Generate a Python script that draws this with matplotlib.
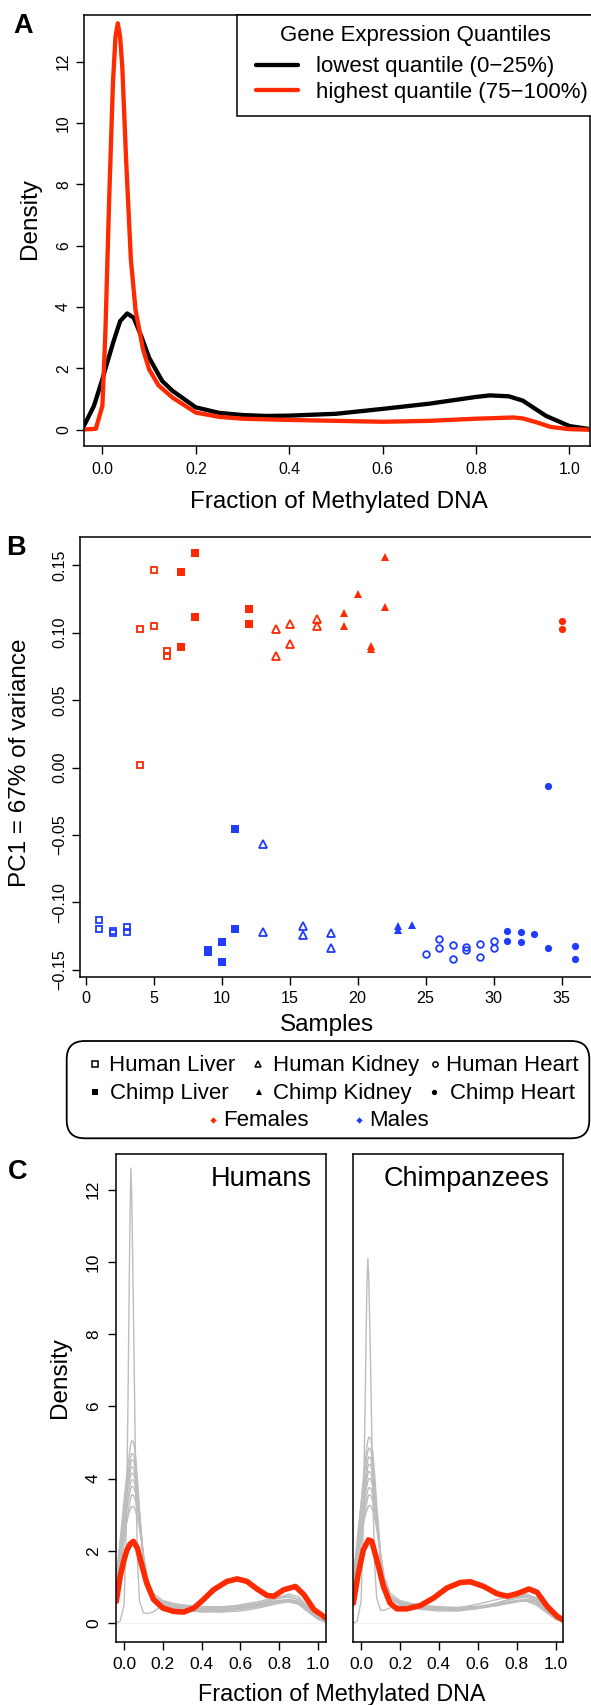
import matplotlib
matplotlib.use('Agg')
import matplotlib.pyplot as plt
from matplotlib.patches import Rectangle, FancyBboxPatch

plt.rcParams['font.family'] = ['Liberation Sans', 'DejaVu Sans']
plt.rcParams['axes.linewidth'] = 1.1
plt.rcParams['lines.solid_capstyle'] = 'round'
plt.rcParams['lines.solid_joinstyle'] = 'round'

W, H = 591, 1705          # figure size in pixels (dpi 100)
RED = '#ff2a00'
BLUE = '#1f3cff'
GREY = '#bdbdbd'

# ---------------- panel A: methylation density by expression quantile
a_x_low = [-0.04, -0.018, 0.0, 0.023, 0.038, 0.053, 0.067, 0.083, 0.1, 0.128, 0.15, 0.2,
           0.25, 0.3, 0.35, 0.4, 0.5, 0.6, 0.7, 0.8, 0.83, 0.87, 0.9, 0.95, 1.0, 1.044]
a_y_low = [0.11, 0.78, 1.65, 2.84, 3.54, 3.79, 3.65, 3.06, 2.35, 1.59, 1.27, 0.73,
           0.55, 0.48, 0.45, 0.46, 0.52, 0.68, 0.85, 1.07, 1.12, 1.09, 0.95, 0.45, 0.12, 0.02]
a_x_high = [-0.04, -0.014, 0.0, 0.0065, 0.0145, 0.0226, 0.028, 0.033, 0.038, 0.0427, 0.0508,
            0.061, 0.071, 0.087, 0.1, 0.12, 0.15, 0.2, 0.25, 0.3, 0.4, 0.5, 0.6, 0.7, 0.8,
            0.88, 0.9, 0.93, 0.96, 1.0, 1.044]
a_y_high = [0.01, 0.03, 0.78, 3.2, 7.5, 11.3, 12.8, 13.25, 12.8, 11.8, 8.8,
            5.55, 3.9, 2.62, 1.97, 1.45, 1.05, 0.56, 0.42, 0.36, 0.32, 0.29, 0.26, 0.29, 0.36,
            0.40, 0.37, 0.24, 0.09, 0.02, 0.0]
a_labels = ['lowest quantile (0\u221225%)', 'highest quantile (75\u2212100%)']

# ---------------- panel B: PC1 per sample (f = female, m = male)
hl_f_x = [4, 4, 5, 5, 6, 6]
hl_f_y = [0.1023, 0.0020, 0.1467, 0.1048, 0.0867, 0.0825]
hl_m_x = [1, 1, 2, 2, 3, 3]
hl_m_y = [-0.1132, -0.1193, -0.1213, -0.1226, -0.1184, -0.1218]
cl_f_x = [7, 7, 8, 8, 12, 12]
cl_f_y = [0.1452, 0.0890, 0.1586, 0.1117, 0.1177, 0.1060]
cl_m_x = [9, 9, 10, 10, 11, 11]
cl_m_y = [-0.1352, -0.1364, -0.1293, -0.1444, -0.0458, -0.1196]
hk_f_x = [14, 14, 15, 15, 17, 17]
hk_f_y = [0.1026, 0.0830, 0.1060, 0.0917, 0.1098, 0.1050]
hk_m_x = [13, 13, 16, 16, 18, 18]
hk_m_y = [-0.0569, -0.1221, -0.1176, -0.1238, -0.1226, -0.1337]
ck_f_x = [19, 19, 20, 21, 21, 22, 22]
ck_f_y = [0.1142, 0.1048, 0.1286, 0.0904, 0.0875, 0.1561, 0.1189]
ck_m_x = [23, 23, 24]
ck_m_y = [-0.1176, -0.1206, -0.1164]
hh_m_x = [25, 26, 26, 27, 27, 28, 28, 29, 29, 30, 30]
hh_m_y = [-0.1382, -0.1268, -0.1340, -0.1315, -0.1421, -0.1327, -0.1349, -0.1307, -0.1406,
          -0.1285, -0.1337]
ch_f_x = [35, 35]
ch_f_y = [0.1088, 0.1026]
ch_m_x = [31, 31, 32, 32, 33, 34, 34, 36, 36]
ch_m_y = [-0.1208, -0.1287, -0.1216, -0.1292, -0.1233, -0.0136, -0.1337, -0.1325, -0.1419]
b_yticks = [-0.15, -0.10, -0.05, 0.00, 0.05, 0.10, 0.15]
b_xticks = [0, 5, 10, 15, 20, 25, 30, 35]

# ---------------- panel C: per-sample densities (grey) and average (red)
c_grid = [-0.04, -0.02, 0.00, 0.01, 0.02, 0.03, 0.035, 0.04, 0.05, 0.06, 0.07, 0.08, 0.10,
          0.12, 0.15, 0.20, 0.25, 0.30, 0.40, 0.50, 0.60, 0.70, 0.80, 0.85, 0.90, 0.95, 1.00, 1.04]
hum_grey = [
    [0.00, 0.05, 0.50, 2.20, 6.00, 11.0, 12.6, 11.8, 8.00, 4.00, 1.60, 0.60, 0.28, 0.26, 0.30, 0.50, 0.48, 0.42, 0.35, 0.33, 0.38, 0.48, 0.58, 0.60, 0.52, 0.30, 0.10, 0.02],
    [1.20, 2.30, 3.40, 3.90, 4.40, 4.80, 4.95, 5.05, 5.00, 4.60, 3.90, 3.10, 1.80, 1.00, 0.70, 0.55, 0.50, 0.45, 0.40, 0.38, 0.42, 0.50, 0.62, 0.65, 0.58, 0.35, 0.12, 0.03],
    [0.90, 2.00, 3.10, 3.60, 4.10, 4.50, 4.62, 4.70, 4.65, 4.30, 3.70, 3.00, 1.70, 0.95, 0.65, 0.50, 0.45, 0.42, 0.40, 0.42, 0.50, 0.60, 0.72, 0.75, 0.65, 0.40, 0.14, 0.04],
    [1.10, 2.10, 3.00, 3.50, 3.95, 4.30, 4.45, 4.52, 4.48, 4.20, 3.65, 3.00, 1.75, 1.00, 0.68, 0.52, 0.48, 0.40, 0.35, 0.35, 0.38, 0.45, 0.55, 0.58, 0.52, 0.32, 0.12, 0.03],
    [0.70, 1.70, 2.80, 3.30, 3.80, 4.15, 4.28, 4.33, 4.28, 4.00, 3.50, 2.90, 1.70, 0.95, 0.62, 0.48, 0.42, 0.36, 0.30, 0.32, 0.40, 0.55, 0.70, 0.80, 0.72, 0.45, 0.15, 0.04],
    [1.30, 2.20, 3.00, 3.40, 3.75, 4.00, 4.10, 4.15, 4.12, 3.90, 3.45, 2.90, 1.80, 1.05, 0.70, 0.55, 0.50, 0.48, 0.45, 0.45, 0.48, 0.55, 0.62, 0.62, 0.55, 0.35, 0.13, 0.04],
    [0.80, 1.70, 2.60, 3.05, 3.45, 3.78, 3.90, 3.97, 3.95, 3.75, 3.35, 2.85, 1.80, 1.05, 0.70, 0.52, 0.45, 0.38, 0.32, 0.30, 0.33, 0.42, 0.55, 0.62, 0.60, 0.40, 0.14, 0.04],
    [1.00, 1.80, 2.60, 3.00, 3.35, 3.62, 3.72, 3.78, 3.76, 3.58, 3.25, 2.80, 1.85, 1.10, 0.72, 0.55, 0.50, 0.45, 0.40, 0.38, 0.40, 0.48, 0.60, 0.66, 0.60, 0.38, 0.13, 0.04],
    [0.60, 1.40, 2.20, 2.65, 3.05, 3.35, 3.48, 3.55, 3.53, 3.38, 3.10, 2.70, 1.85, 1.15, 0.75, 0.58, 0.52, 0.45, 0.38, 0.36, 0.42, 0.55, 0.68, 0.72, 0.65, 0.42, 0.15, 0.04],
    [1.20, 1.80, 2.40, 2.70, 2.95, 3.12, 3.18, 3.23, 3.22, 3.10, 2.88, 2.60, 1.90, 1.25, 0.82, 0.62, 0.55, 0.50, 0.45, 0.42, 0.45, 0.52, 0.60, 0.62, 0.55, 0.35, 0.12, 0.03],
]
chp_grey = [
    [0.00, 0.05, 0.60, 2.40, 5.80, 9.40, 10.1, 9.50, 6.80, 3.60, 1.60, 0.70, 0.35, 0.35, 0.42, 0.50, 0.50, 0.45, 0.38, 0.36, 0.42, 0.52, 0.60, 0.60, 0.50, 0.30, 0.10, 0.02],
    [1.00, 2.10, 3.30, 3.90, 4.45, 4.90, 5.05, 5.15, 5.10, 4.75, 4.10, 3.30, 1.95, 1.10, 0.72, 0.55, 0.50, 0.45, 0.40, 0.40, 0.45, 0.55, 0.68, 0.72, 0.62, 0.38, 0.13, 0.03],
    [1.30, 2.30, 3.30, 3.80, 4.25, 4.60, 4.75, 4.85, 4.80, 4.45, 3.85, 3.15, 1.85, 1.05, 0.70, 0.52, 0.48, 0.43, 0.40, 0.42, 0.52, 0.65, 0.78, 0.80, 0.68, 0.42, 0.14, 0.04],
    [0.80, 1.90, 2.95, 3.45, 3.95, 4.35, 4.52, 4.60, 4.56, 4.25, 3.70, 3.05, 1.80, 1.02, 0.68, 0.52, 0.46, 0.40, 0.36, 0.36, 0.40, 0.50, 0.62, 0.66, 0.60, 0.38, 0.13, 0.03],
    [1.10, 2.00, 2.90, 3.35, 3.80, 4.15, 4.32, 4.40, 4.37, 4.10, 3.60, 3.00, 1.80, 1.05, 0.70, 0.55, 0.50, 0.46, 0.42, 0.40, 0.42, 0.48, 0.58, 0.62, 0.56, 0.36, 0.12, 0.03],
    [0.70, 1.60, 2.60, 3.10, 3.60, 3.98, 4.12, 4.20, 4.17, 3.92, 3.45, 2.90, 1.75, 1.00, 0.66, 0.50, 0.44, 0.38, 0.33, 0.33, 0.40, 0.55, 0.72, 0.78, 0.70, 0.44, 0.15, 0.04],
    [1.20, 2.00, 2.75, 3.15, 3.50, 3.80, 3.93, 4.00, 3.98, 3.78, 3.38, 2.88, 1.82, 1.06, 0.70, 0.54, 0.48, 0.44, 0.40, 0.40, 0.44, 0.52, 0.62, 0.64, 0.56, 0.36, 0.12, 0.03],
    [0.90, 1.70, 2.50, 2.90, 3.28, 3.56, 3.68, 3.75, 3.73, 3.55, 3.22, 2.78, 1.85, 1.10, 0.72, 0.55, 0.50, 0.44, 0.38, 0.37, 0.40, 0.48, 0.60, 0.65, 0.60, 0.38, 0.13, 0.04],
    [0.60, 1.40, 2.20, 2.65, 3.05, 3.35, 3.48, 3.55, 3.53, 3.38, 3.10, 2.70, 1.85, 1.15, 0.75, 0.58, 0.52, 0.45, 0.38, 0.36, 0.42, 0.55, 0.70, 0.74, 0.66, 0.42, 0.15, 0.04],
    [1.20, 1.80, 2.40, 2.70, 2.95, 3.12, 3.20, 3.25, 3.24, 3.12, 2.90, 2.62, 1.92, 1.26, 0.82, 0.62, 0.55, 0.50, 0.45, 0.43, 0.46, 0.52, 0.60, 0.62, 0.55, 0.35, 0.12, 0.03],
]
c_hum_x = [-0.04, -0.02, 0.0, 0.015, 0.031, 0.048, 0.069, 0.091, 0.117, 0.152, 0.2, 0.255, 0.307,
           0.359, 0.4, 0.462, 0.531, 0.583, 0.634, 0.686, 0.738, 0.772, 0.824, 0.884, 0.928,
           0.979, 1.04]
c_hum_y = [0.6, 1.29, 1.75, 2.02, 2.18, 2.26, 2.07, 1.61, 1.1, 0.65, 0.41, 0.32, 0.30,
           0.41, 0.6, 0.92, 1.15, 1.22, 1.15, 0.94, 0.76, 0.74, 0.92, 1.01, 0.78,
           0.37, 0.14]
c_chp_x = [-0.04, -0.014, 0.012, 0.038, 0.055, 0.081, 0.115, 0.149, 0.184, 0.235, 0.304, 0.373,
           0.442, 0.51, 0.562, 0.631, 0.699, 0.751, 0.802, 0.863, 0.905, 0.957, 1.009, 1.043]
c_chp_y = [0.55, 1.38, 2.03, 2.30, 2.26, 1.75, 1.01, 0.55, 0.39, 0.39, 0.48, 0.69,
           0.97, 1.12, 1.14, 1.01, 0.81, 0.74, 0.81, 0.94, 0.85, 0.46, 0.18, 0.07]
frac_ticks = [0.0, 0.2, 0.4, 0.6, 0.8, 1.0]


def add_ax(fig, x0, y0, x1, y1):
    # axes from pixel box (top-left origin)
    return fig.add_axes([x0 / W, 1 - y1 / H, (x1 - x0) / W, (y1 - y0) / H])


def style(ax, fs, padx, pady):
    ax.tick_params(direction='out', length=5.5, width=1.0, labelsize=fs)
    ax.tick_params(axis='x', pad=padx)
    ax.tick_params(axis='y', pad=pady, labelrotation=90)
    plt.setp(ax.get_yticklabels(), va='center')


fig = plt.figure(figsize=(W / 100, H / 100), dpi=100)

# ---- A
axA = add_ax(fig, 83.7, 15, 590, 445.7)
axA.plot(a_x_low, a_y_low, color='black', lw=3.1)
axA.plot(a_x_high, a_y_high, color=RED, lw=3.1)
axA.set_xlim(-0.04, 1.044)
axA.set_ylim(-0.52, 13.52)
axA.set_xticks(frac_ticks)
axA.set_xticklabels(['%.1f' % t for t in frac_ticks])
axA.set_yticks([0, 2, 4, 6, 8, 10, 12])
style(axA, 11.3, 6.3, 3.6)

# ---- B
axB = add_ax(fig, 80.3, 537.3, 594.3, 976.7)
groups = [
    (hl_f_x, hl_f_y, RED, 's', False), (hl_m_x, hl_m_y, BLUE, 's', False),
    (cl_f_x, cl_f_y, RED, 's', True), (cl_m_x, cl_m_y, BLUE, 's', True),
    (hk_f_x, hk_f_y, RED, '^', False), (hk_m_x, hk_m_y, BLUE, '^', False),
    (ck_f_x, ck_f_y, RED, '^', True), (ck_m_x, ck_m_y, BLUE, '^', True),
    (hh_m_x, hh_m_y, BLUE, 'o', False),
    (ch_f_x, ch_f_y, RED, 'o', True), (ch_m_x, ch_m_y, BLUE, 'o', True),
]
msize = {'s': 4.7, '^': 5.8, 'o': 4.8}
for gx, gy, col, mk, filled in groups:
    if filled:
        axB.plot(gx, gy, ls='none', marker=mk, ms=msize[mk] + 0.4, color=col, mec=col, mew=0)
    else:
        axB.plot(gx, gy, ls='none', marker=mk, ms=msize[mk], mfc='none', mec=col, mew=1.3)
axB.set_xlim(-0.4, 37.4)
axB.set_ylim(-0.155, 0.1706)
axB.set_xticks(b_xticks)
axB.set_yticks(b_yticks)
axB.set_yticklabels([('%.2f' % v).replace('-', '\u2212') for v in b_yticks])
style(axB, 11.6, 5.0, 3.9)

# ---- C
axC1 = add_ax(fig, 116.3, 1154, 325.7, 1641.7)
axC2 = add_ax(fig, 353.3, 1154, 563.3, 1641.7)
for ax, greys, rx, ry in [(axC1, hum_grey, c_hum_x, c_hum_y), (axC2, chp_grey, c_chp_x, c_chp_y)]:
    ax.axhline(0, color='#f0f0f0', lw=0.8)
    for gy in greys:
        ax.plot(c_grid, gy, color=GREY, lw=1.0)
    ax.plot(rx, ry, color=RED, lw=4.0)
    ax.set_xlim(-0.04, 1.04)
    ax.set_ylim(-0.52, 12.99)
    ax.set_xticks(frac_ticks)
    ax.set_xticklabels(['%.1f' % t for t in frac_ticks])
axC1.set_yticks([0, 2, 4, 6, 8, 10, 12])
axC2.set_yticks([])
style(axC1, 12.5, 5.5, 5.5)
style(axC2, 12.5, 5.5, 5.5)

# ---- overlay in pixel coordinates for labels and legends
lax = fig.add_axes([0, 0, 1, 1], zorder=5)
lax.set_xlim(0, W)
lax.set_ylim(H, 0)
lax.axis('off')

bold = dict(fontsize=19.5, fontweight='bold', ha='left', va='baseline')
lax.text(13.2, 33.3, 'A', **bold)
lax.text(5.7, 555, 'B', **bold)
lax.text(8.3, 1179, 'C', **bold)

lab = dict(fontsize=17.5)
lax.text(339, 508, 'Fraction of Methylated DNA', ha='center', va='baseline', **lab)
lax.text(30, 219, 'Density', rotation=90, ha='center', va='center', **lab)
lax.text(20, 762.5, 'PC1 = 67% of variance', rotation=90, ha='center', va='center', **lab)
lax.text(327, 1031, 'Samples', ha='center', va='baseline', **lab)
lax.text(60.3, 1378, 'Density', rotation=90, ha='center', va='center', **lab)
lax.text(342, 1701, 'Fraction of Methylated DNA', ha='center', va='baseline', fontsize=16.8)
lax.text(312, 1185.7, 'Humans', ha='right', va='baseline', fontsize=19.5)
lax.text(549.2, 1185.7, 'Chimpanzees', ha='right', va='baseline', fontsize=19.5)

# legend A
lax.add_patch(Rectangle((236.7, 15), 380, 100.7, fc='white', ec='black', lw=1.1))
lax.text(415, 40.7, 'Gene Expression Quantiles', ha='center', va='baseline', fontsize=16)
for yy, yb, col, txt in [(65, 72.3, 'black', a_labels[0]), (90, 97.7, RED, a_labels[1])]:
    lax.plot([256, 298], [yy, yy], color=col, lw=3.1)
    lax.text(315.9, yb, txt, ha='left', va='baseline', fontsize=16)

# legend B
lax.add_patch(FancyBboxPatch((66.7, 1041), 522.6, 97.3,
                             boxstyle='round,pad=0,rounding_size=18',
                             fc='white', ec='black', lw=1.3))
leg_items = [
    (95, 1064, 1071, 109.3, 's', False, 'black', 'Human Liver'),
    (95, 1092, 1099.3, 110, 's', True, 'black', 'Chimp Liver'),
    (258.3, 1064, 1071, 272.7, '^', False, 'black', 'Human Kidney'),
    (259, 1092, 1099.3, 272.7, '^', True, 'black', 'Chimp Kidney'),
    (435, 1064, 1071, 445.7, 'o', False, 'black', 'Human Heart'),
    (434.3, 1092, 1099.3, 450, 'o', True, 'black', 'Chimp Heart'),
    (212.7, 1120, 1126, 223.3, 'D', True, RED, 'Females'),
    (359, 1120, 1126, 369, 'D', True, BLUE, 'Males'),
]
for mx, my, yb, tx, mk, filled, col, txt in leg_items:
    ms = 3.2 if mk == 'D' else 3.8
    if filled:
        lax.plot([mx], [my], marker=mk, ms=ms, color=col, mew=0)
    else:
        lax.plot([mx], [my], marker=mk, ms=ms, mfc='none', mec=col, mew=1.1)
    lax.text(tx, yb, txt, ha='left', va='baseline', fontsize=16)

fig.savefig('out.png', dpi=100)
